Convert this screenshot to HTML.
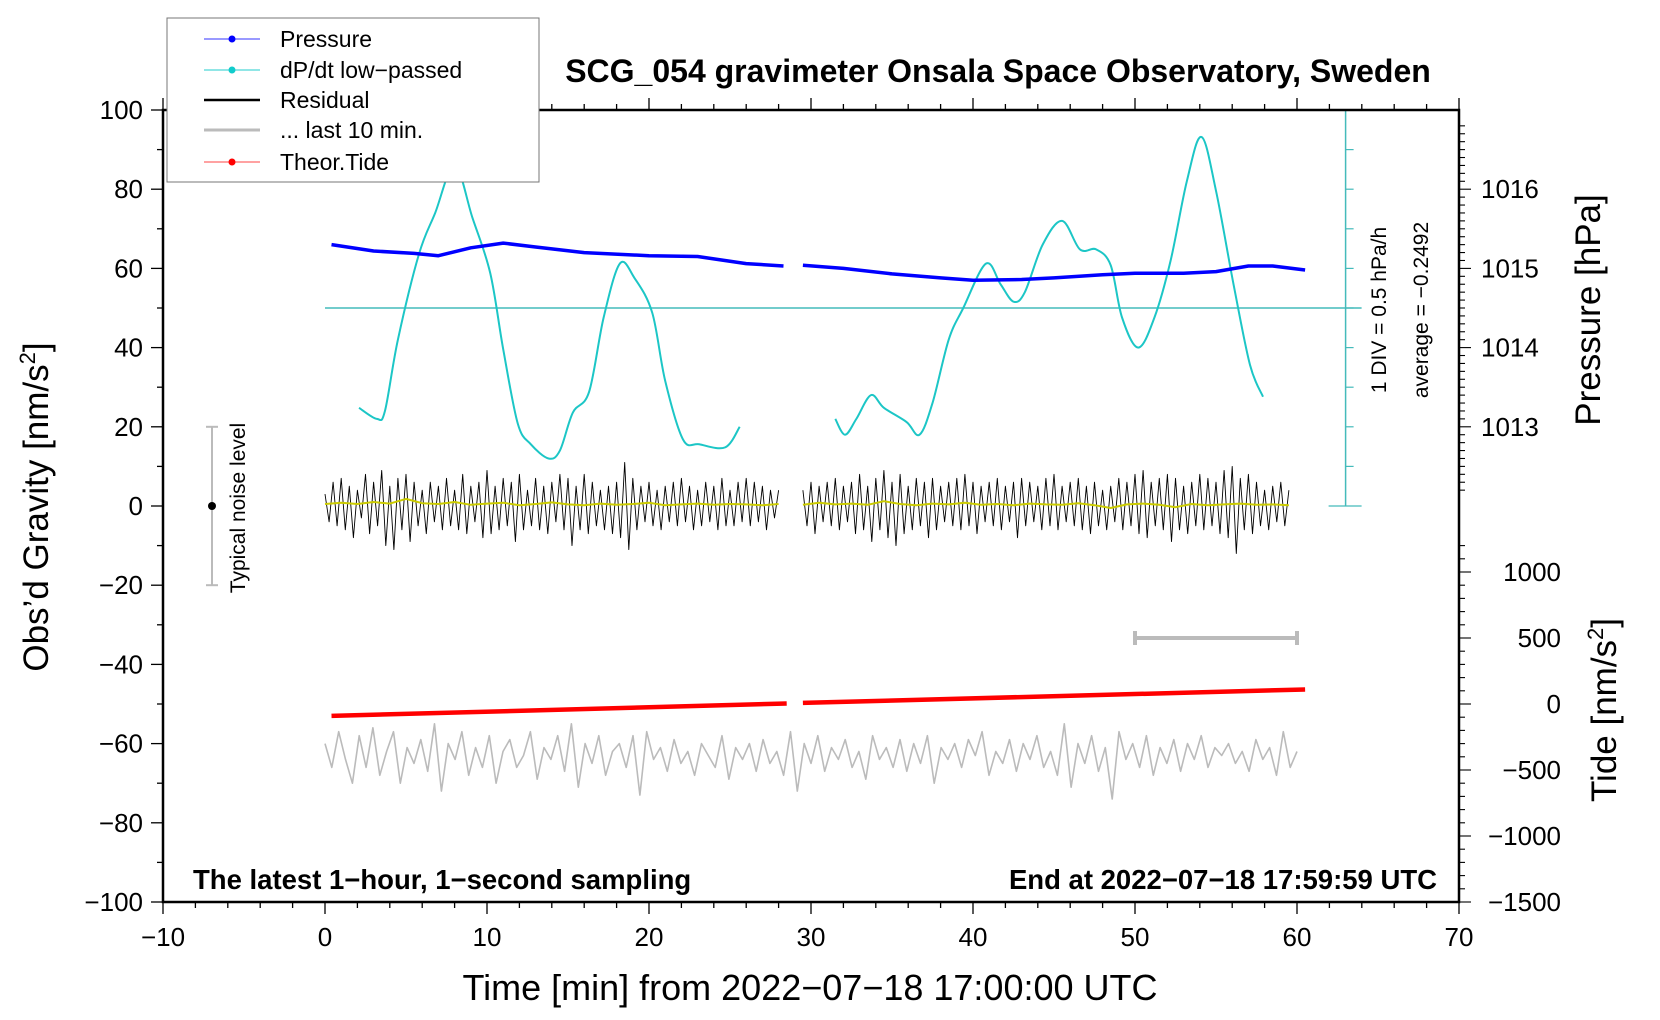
<!DOCTYPE html>
<html><head><meta charset="utf-8"><style>
html,body{margin:0;padding:0;background:#fff;}
svg{display:block;font-family:"Liberation Sans",Arial,sans-serif;}
</style></head><body>
<svg id="chart" width="1660" height="1020" viewBox="0 0 1660 1020" xmlns="http://www.w3.org/2000/svg">
<rect x="0" y="0" width="1660" height="1020" fill="#fff"/>
<g id="marks"></g>
<g id="axes"></g>
<text x="998" y="82" font-size="32" font-weight="bold" text-anchor="middle">SCG_054 gravimeter Onsala Space Observatory, Sweden</text>
<text x="810" y="1000" font-size="36" text-anchor="middle">Time [min] from 2022−07−18 17:00:00 UTC</text>
<text transform="translate(48,507) rotate(-90)" font-size="35" text-anchor="middle">Obs’d Gravity [nm/s<tspan font-size="22" dy="-13">2</tspan><tspan dy="13">]</tspan></text>
<text transform="translate(1600,310) rotate(-90)" font-size="35" text-anchor="middle">Pressure [hPa]</text>
<text transform="translate(1616,710) rotate(-90)" font-size="35" text-anchor="middle">Tide [nm/s<tspan font-size="22" dy="-13">2</tspan><tspan dy="13">]</tspan></text>
<text transform="translate(1386,310) rotate(-90)" font-size="21" text-anchor="middle">1 DIV = 0.5 hPa/h</text>
<text transform="translate(1428,310) rotate(-90)" font-size="21" text-anchor="middle">average = −0.2492</text>
<text transform="translate(245,508) rotate(-90)" font-size="21" text-anchor="middle">Typical noise level</text>
<text x="193" y="889" font-size="27.5" font-weight="bold">The latest 1−hour, 1−second sampling</text>
<text x="1437" y="889" font-size="27.5" font-weight="bold" text-anchor="end">End at 2022−07−18 17:59:59 UTC</text>
<g>
<rect x="167" y="18" width="372" height="164" fill="#fff" stroke="#777" stroke-width="1"/>
<line x1="204" y1="39" x2="260" y2="39" stroke="#33f" stroke-width="1"/><circle cx="232" cy="39" r="3.5" fill="#00f"/>
<text x="280" y="47" font-size="23">Pressure</text>
<line x1="204" y1="70" x2="260" y2="70" stroke="#2cc" stroke-width="1"/><circle cx="232" cy="70" r="3.5" fill="#1cc"/>
<text x="280" y="78" font-size="23">dP/dt low−passed</text>
<line x1="204" y1="100" x2="260" y2="100" stroke="#000" stroke-width="2.5"/>
<text x="280" y="108" font-size="23">Residual</text>
<line x1="204" y1="130" x2="260" y2="130" stroke="#bbb" stroke-width="3"/>
<text x="280" y="138" font-size="23">... last 10 min.</text>
<line x1="204" y1="162" x2="260" y2="162" stroke="#f44" stroke-width="1"/><circle cx="232" cy="162" r="3.5" fill="#f00"/>
<text x="280" y="170" font-size="23">Theor.Tide</text>
</g>
</svg>
<script>
// ---- data ----
const pressTimes1 = [0.4, 3, 5.5, 7, 9, 11, 13, 16, 20, 23, 26, 28.3];
const pressVals1 = [1015.3, 1015.22, 1015.19, 1015.16, 1015.26, 1015.32, 1015.27, 1015.2, 1015.16, 1015.15, 1015.06, 1015.03];
const pressTimes2 = [29.5, 32, 35, 38, 40, 43, 45, 48, 50, 53, 55, 57, 58.5, 60.5];
const pressVals2 = [1015.04, 1015.0, 1014.93, 1014.88, 1014.85, 1014.86, 1014.88, 1014.92, 1014.94, 1014.94, 1014.96, 1015.03, 1015.03, 1014.98];
const dpTimes1 = [2.1,3.2,3.7,4.5,5.8,6.8,8.0,9.1,10.2,11.0,11.9,12.7,13.8,14.5,15.3,16.3,17.2,18.2,19.1,20.2,21.0,22.1,23.1,24.7,25.6];
const dpVals1 = [-1.26,-1.4,-1.3,-0.4,0.68,1.2,1.8,1.14,0.44,-0.52,-1.46,-1.72,-1.9,-1.8,-1.32,-1.06,-0.12,0.56,0.38,-0.06,-0.92,-1.66,-1.72,-1.76,-1.5];
const dpTimes2 = [31.5,32.1,32.8,33.7,34.5,35.9,36.7,37.5,38.5,39.4,40.8,41.7,42.5,43.2,44.3,45.5,46.6,47.6,48.5,49.2,50.2,51.2,52.2,53.2,54.1,55.0,56.1,57.1,57.9];
const dpVals2 = [-1.4,-1.6,-1.4,-1.1,-1.26,-1.44,-1.6,-1.2,-0.4,0.0,0.56,0.3,0.08,0.2,0.8,1.1,0.74,0.74,0.54,-0.12,-0.5,-0.12,0.6,1.6,2.16,1.48,0.28,-0.72,-1.12];
const resid1 = [3,-4,6,-5,7,-6,5,-8,4,-3,8,-7,6,-5,9,-10,5,-11,7,-6,8,-9,6,-5,4,-7,6,-4,5,-6,7,-5,4,-6,8,-7,5,-4,6,-8,9,-7,5,-6,7,-5,6,-9,8,-6,4,-5,7,-6,5,-7,6,-4,8,-6,7,-10,5,-6,8,-7,6,-5,4,-6,5,-7,6,-8,11,-11,7,-6,5,-4,6,-5,4,-6,5,-4,6,-5,7,-4,5,-6,4,-5,6,-4,5,-6,7,-5,4,-5,6,-4,7,-5,6,-4,5,-6,4,-3,4];
const resid2 = [4,-5,6,-7,5,-4,6,-5,7,-6,5,-4,6,-7,8,-6,5,-9,7,-6,9,-8,6,-10,8,-7,5,-6,7,-5,6,-8,7,-6,5,-4,6,-5,7,-6,8,-5,6,-7,5,-4,6,-5,7,-6,5,-4,6,-8,7,-5,6,-4,5,-6,7,-5,8,-6,5,-4,6,-5,7,-6,5,-7,6,-5,4,-6,5,-4,7,-6,6,-5,8,-7,9,-8,6,-5,7,-6,8,-9,7,-6,5,-7,6,-5,8,-6,7,-5,6,-7,9,-8,10,-12,7,-6,8,-7,6,-5,4,-6,5,-4,6,-5,4];
const smooth1 = [0.5,0.8,0.5,1.0,0.6,1.8,0.7,0.5,1.0,0.3,0.6,0.8,0.2,0.5,0.9,0.4,0.2,0.6,0.3,0.5,0.8,0.2,0.4,0.6,0.3,0.5,0.4,0.2,0.5];
const smooth2 = [0.3,0.8,0.4,0.6,0.3,1.2,0.5,0.2,0.6,0.4,0.8,0.3,0.5,0.2,0.6,0.4,0.3,0.7,0.2,-0.5,0.4,0.6,0.3,-0.3,0.5,0.2,0.4,0.6,0.3,0.4,0.2];
const last10 = [-60,-66,-57,-64,-70,-58,-66,-56,-68,-62,-57,-70,-61,-65,-59,-67,-55,-72,-60,-64,-57,-68,-61,-66,-58,-70,-62,-59,-66,-63,-57,-69,-61,-64,-58,-67,-55,-71,-60,-65,-58,-68,-62,-60,-66,-58,-73,-57,-64,-61,-67,-59,-65,-62,-68,-60,-63,-66,-58,-69,-61,-64,-60,-67,-59,-65,-62,-68,-57,-72,-60,-65,-58,-67,-61,-64,-59,-66,-62,-69,-58,-64,-61,-66,-59,-67,-60,-65,-58,-70,-61,-64,-60,-66,-59,-63,-57,-68,-62,-65,-59,-67,-60,-64,-58,-66,-62,-68,-55,-71,-60,-65,-58,-67,-61,-74,-57,-64,-60,-66,-58,-68,-61,-65,-59,-67,-60,-64,-58,-66,-61,-63,-60,-65,-62,-67,-59,-64,-61,-68,-57,-66,-62];
const tideTimes = [0.4, 28.5, 29.5, 60.5];
const tideVals = [-90, 4, 8, 110];
const xTicks = [-10,0,10,20,30,40,50,60,70];
const yTicks = [100,80,60,40,20,0,-20,-40,-60,-80,-100];
const pTicks = [1013,1014,1015,1016];
const tTicks = [1000,500,0,-500,-1000,-1500];

// ---- axis functions ----
const L=163,R=1459,T=110,B=902;
const X = m => L + (m + 10) * (R - L) / 80;
const Y = g => T + (100 - g) * (B - T) / 200;
const pG = p => 60 + (p - 1015) * 20;
const dG = d => 50 + d * 20;
const tG = t => -50 + t / 30;
const NS = 'http://www.w3.org/2000/svg';
const marks = document.getElementById('marks');
const axes = document.getElementById('axes');
function mk(tag, attrs, parent){ const e=document.createElementNS(NS,tag); for(const k in attrs) e.setAttribute(k,attrs[k]); parent.appendChild(e); return e; }
function poly(ts, gs, stroke, w, name){
  const pts = ts.map((t,i)=>X(t).toFixed(1)+','+Y(gs[i]).toFixed(1)).join(' ');
  const e = mk('polyline',{points:pts,fill:'none',stroke:stroke,'stroke-width':w,'stroke-linejoin':'round'},marks);
  
  
  return e;
}
function smoothPath(ts, gs, stroke, w, name){
  const p = ts.map((t,i)=>[X(t),Y(gs[i])]);
  let d='M'+p[0][0]+','+p[0][1];
  for(let i=0;i<p.length-1;i++){
    const p0=p[Math.max(0,i-1)],p1=p[i],p2=p[i+1],p3=p[Math.min(p.length-1,i+2)];
    d+=' C'+(p1[0]+(p2[0]-p0[0])/6)+','+(p1[1]+(p2[1]-p0[1])/6)+' '+(p2[0]-(p3[0]-p1[0])/6)+','+(p2[1]-(p3[1]-p1[1])/6)+' '+p2[0]+','+p2[1];
  }
  const e = mk('path',{d:d,fill:'none',stroke:stroke,'stroke-width':w},marks);
  
  
}

const zl = mk('line',{x1:X(0),y1:Y(dG(0)),x2:X(63)+16,y2:Y(dG(0)),stroke:'#44bbbb','stroke-width':1.5},marks);


const ca = mk('line',{x1:X(63),y1:Y(100),x2:X(63),y2:Y(0),stroke:'#44bbbb','stroke-width':1.5},marks);


for(let g=0; g<=100; g+=10){
  const cap = (g===0||g===100);
  mk('line',{x1:cap?X(63)-17:X(63),y1:Y(g),x2:X(63)+(cap?16:8),y2:Y(g),stroke:'#44bbbb','stroke-width':1.2},marks);
}

const nb = mk('g',{},marks);


mk('line',{x1:212,y1:Y(20),x2:212,y2:Y(-20),stroke:'#bbb','stroke-width':2},nb);
mk('line',{x1:206,y1:Y(20),x2:218,y2:Y(20),stroke:'#bbb','stroke-width':2},nb);
mk('line',{x1:206,y1:Y(-20),x2:218,y2:Y(-20),stroke:'#bbb','stroke-width':2},nb);
mk('circle',{cx:212,cy:Y(0),r:4,fill:'#000'},nb);

const sb = mk('g',{},marks);


mk('line',{x1:X(50),y1:Y(tG(500)),x2:X(60),y2:Y(tG(500)),stroke:'#bbb','stroke-width':4},sb);
mk('line',{x1:X(50),y1:Y(tG(500))-7,x2:X(50),y2:Y(tG(500))+7,stroke:'#bbb','stroke-width':4},sb);
mk('line',{x1:X(60),y1:Y(tG(500))-7,x2:X(60),y2:Y(tG(500))+7,stroke:'#bbb','stroke-width':4},sb);

smoothPath(dpTimes1, dpVals1.map(dG), '#1cc6c6', 2, 'dpdt-segment-1');
smoothPath(dpTimes2, dpVals2.map(dG), '#1cc6c6', 2, 'dpdt-segment-2');
poly(pressTimes1, pressVals1.map(pG), '#0000ff', 3.5, 'pressure-segment-1');
poly(pressTimes2, pressVals2.map(pG), '#0000ff', 3.5, 'pressure-segment-2');
poly(resid1.map((v,i)=>0+i*0.25), resid1, '#000', 0.9, 'residual-segment-1');
poly(resid2.map((v,i)=>29.5+i*0.25), resid2, '#000', 0.9, 'residual-segment-2');
poly(smooth1.map((v,i)=>i), smooth1, '#cccc00', 2, 'residual-smooth-1');
poly(smooth2.map((v,i)=>29.5+i), smooth2, '#cccc00', 2, 'residual-smooth-2');
poly(last10.map((v,i)=>i*60/(last10.length-1)), last10, '#bbb', 1.6, 'last-10-min-line');
poly(tideTimes.slice(0,2), tideVals.slice(0,2).map(tG), '#ff0000', 4.5, 'tide-segment-1');
poly(tideTimes.slice(2), tideVals.slice(2).map(tG), '#ff0000', 4.5, 'tide-segment-2');

const fr = mk('rect',{x:L,y:T,width:R-L,height:B-T,fill:'none',stroke:'#000','stroke-width':2.5},axes);


for(let m=-10;m<=70;m+=2){
  const major = m%10===0;
  mk('line',{x1:X(m),y1:B,x2:X(m),y2:B+(major?12:6),stroke:'#000','stroke-width':1.3},axes);
  mk('line',{x1:X(m),y1:T,x2:X(m),y2:T-(major?12:6),stroke:'#000','stroke-width':1.3},axes);
}
xTicks.forEach(m=>{
  const t = mk('text',{x:X(m),y:B+44,'font-size':26,'text-anchor':'middle'},axes);
  t.textContent = String(m).replace('-','−');
  
  
});
for(let g=-100; g<=100; g+=10){
  mk('line',{x1:L,y1:Y(g),x2:L-(g%20===0?12:6),y2:Y(g),stroke:'#000','stroke-width':1.3},axes);
}
yTicks.forEach(g=>{
  const t = mk('text',{x:L-20,y:Y(g)+9,'font-size':26,'text-anchor':'end'},axes);
  t.textContent = String(g).replace('-','−');
  
  
});
for(let i=0;i<=46;i++){
  const p = 1016.8 - i*0.1;
  const g = pG(p);
  if(g<1) break;
  const major = Math.abs(p-Math.round(p))<0.01;
  mk('line',{x1:R,y1:Y(g),x2:R+(major?12:6),y2:Y(g),stroke:'#000','stroke-width':1.1},axes);
}
pTicks.forEach(p=>{
  const t = mk('text',{x:R+22,y:Y(pG(p))+9,'font-size':26},axes);
  t.textContent = p;
  
  
});
for(let v=1200; v>=-1500; v-=100){
  const major = v%500===0;
  mk('line',{x1:R,y1:Y(tG(v)),x2:R+(major?12:6),y2:Y(tG(v)),stroke:'#000','stroke-width':1.1},axes);
}
tTicks.forEach(v=>{
  const t = mk('text',{x:R+102,y:Y(tG(v))+9,'font-size':26,'text-anchor':'end'},axes);
  t.textContent = String(v).replace('-','−');
  
  
});
</script>
</body></html>
